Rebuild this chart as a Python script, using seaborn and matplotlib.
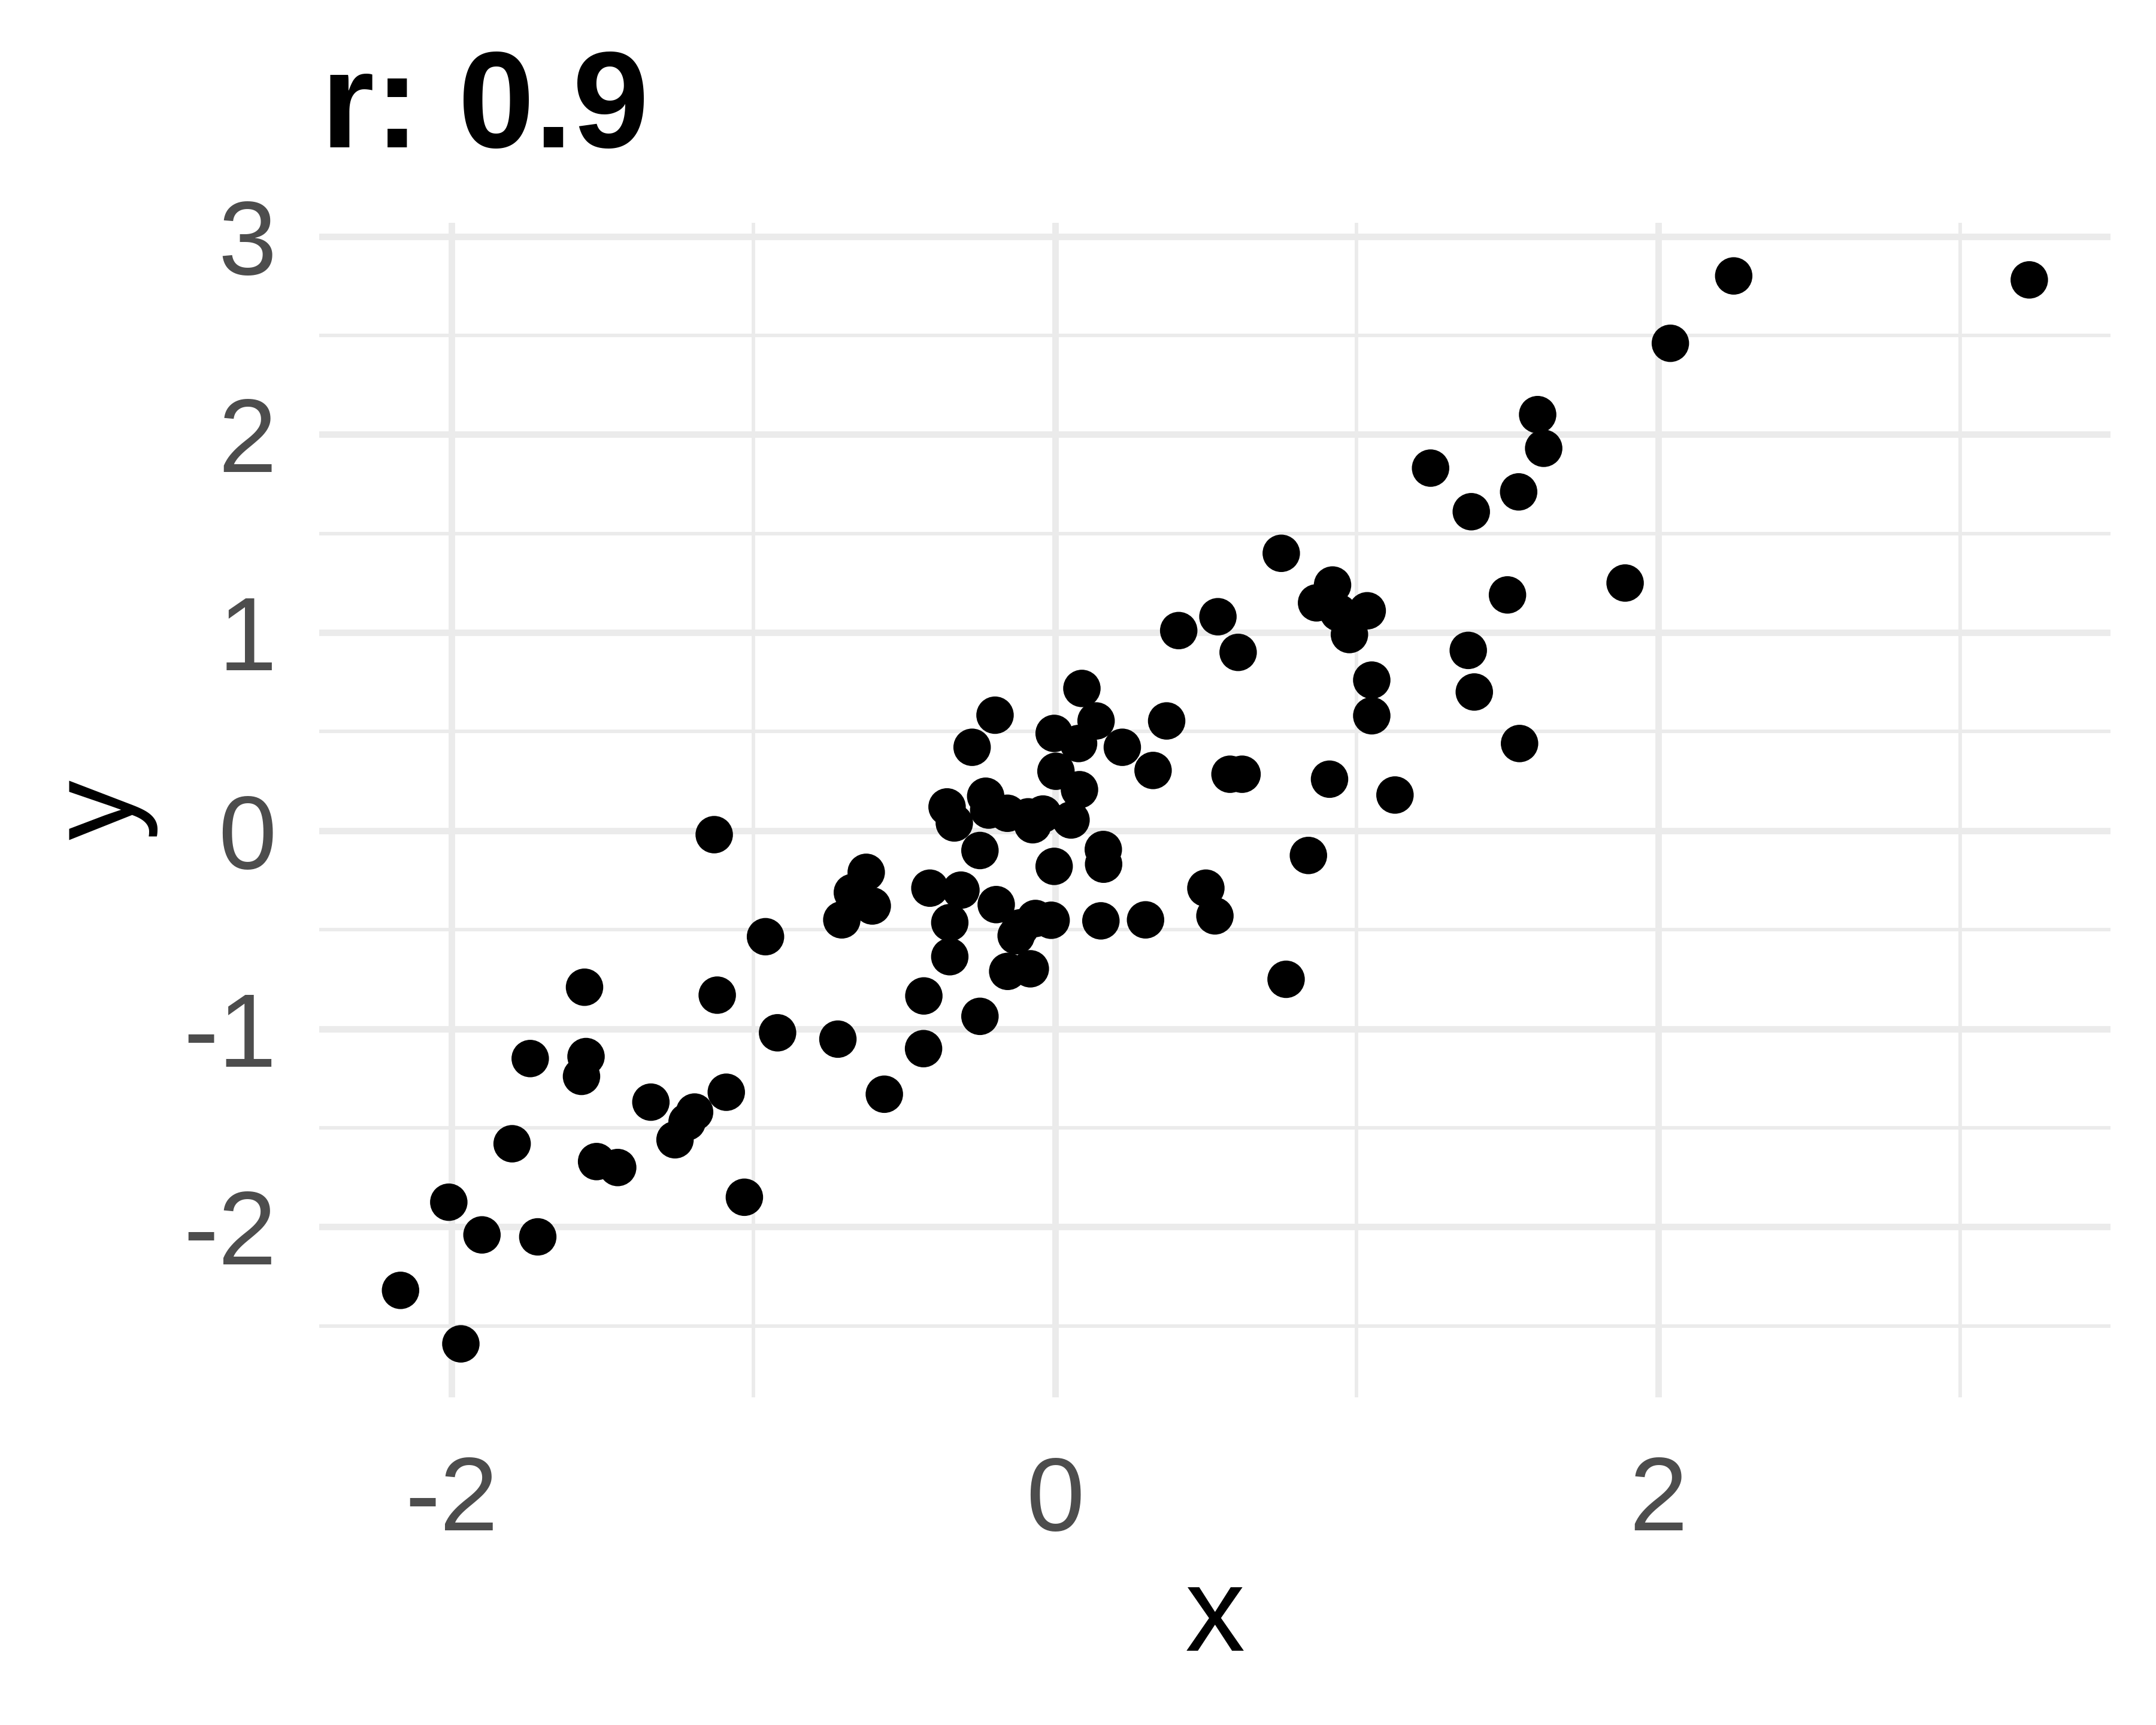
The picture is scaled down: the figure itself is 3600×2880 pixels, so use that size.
import numpy as np
import pandas as pd
import matplotlib
matplotlib.use("Agg")
import matplotlib.pyplot as plt
from matplotlib.ticker import MultipleLocator
import seaborn as sns

# values
x_vals = [-2.17, -1.97, -2.01, -1.90, -1.715, -1.80, -1.74, -1.56, -1.555, -1.57,
          -1.52, -1.45, -1.34, -1.26, -1.22, -1.195, -1.13, -1.12, -1.09, -1.03,
          -0.96, -0.92, -0.72, -0.707, -0.672, -0.626, -0.606, -0.566, -0.436, -0.435,
          -0.415, -0.358, -0.334, -0.349, -0.349, -0.312, -0.275, -0.249, -0.249, -0.23,
          -0.22, -0.199, -0.195, -0.158, -0.157, -0.129, -0.115, -0.089, -0.074, -0.082,
          -0.065, -0.04, -0.013, -0.003, -0.003, 0.003, 0.053, 0.081, 0.089, 0.078,
          0.136, 0.152, 0.16, 0.161, 0.223, 0.30, 0.325, 0.37, 0.41, 0.50,
          0.53, 0.54, 0.58, 0.607, 0.62, 0.75, 0.766, 0.84, 0.867, 0.91,
          0.92, 0.94, 0.976, 1.035, 1.05, 1.05, 1.127, 1.245, 1.37, 1.38,
          1.39, 1.50, 1.537, 1.54, 1.60, 1.62, 1.89, 2.04, 2.25, 3.23]
y_vals = [-2.32, -2.59, -1.875, -2.04, -2.05, -1.58, -1.15, -0.79, -1.14, -1.24,
          -1.67, -1.70, -1.37, -1.56, -1.47, -1.42, -0.02, -0.83, -1.32, -1.85,
          -0.535, -1.02, -1.052, -0.45, -0.312, -0.21, -0.38, -1.33, -1.10, -0.834,
          -0.29, 0.12, 0.039, -0.464, -0.636, -0.30, 0.421, -0.10, -0.937, 0.174,
          0.104, 0.583, -0.373, 0.088, -0.71, -0.53, -0.49, 0.07, 0.03, -0.697,
          -0.443, 0.084, -0.452, -0.18, 0.491, 0.30, 0.054, 0.207, 0.718, 0.44,
          0.554, -0.455, -0.095, -0.169, 0.421, -0.45, 0.304, 0.554, 1.01, -0.29,
          -0.43, 1.08, 0.285, 0.90, 0.285, 1.40, -0.75, -0.125, 1.15, 0.26,
          1.24, 1.10, 0.99, 1.11, 0.76, 0.58, 0.18, 1.83, 0.91, 1.61,
          0.70, 1.19, 1.71, 0.44, 2.10, 1.93, 1.25, 2.46, 2.80, 2.78]
title_text = "r: 0.9"

df = pd.DataFrame({"x": x_vals, "y": y_vals})

sns.set_theme(style="white")
plt.rcParams["font.family"] = ["Liberation Sans", "DejaVu Sans"]

fig = plt.figure(figsize=(12, 9.6), dpi=300)
ax = fig.add_axes([0.148, 0.190, 0.831, 0.681])

sns.scatterplot(data=df, x="x", y="y", ax=ax, color="black", s=225,
                linewidth=0, edgecolor="none", zorder=3)

# ggplot-style 5% expansion
xr = df["x"].max() - df["x"].min()
yr = df["y"].max() - df["y"].min()
ax.set_xlim(df["x"].min() - 0.05 * xr, df["x"].max() + 0.05 * xr)
ax.set_ylim(df["y"].min() - 0.05 * yr, df["y"].max() + 0.05 * yr)

ax.xaxis.set_major_locator(MultipleLocator(2))
ax.xaxis.set_minor_locator(MultipleLocator(1))
ax.yaxis.set_major_locator(MultipleLocator(1))
ax.yaxis.set_minor_locator(MultipleLocator(0.5))

ax.grid(True, which="major", color="#EBEBEB", linewidth=2.6)
ax.grid(True, which="minor", color="#EBEBEB", linewidth=1.4)
ax.set_axisbelow(True)

for side in ax.spines.values():
    side.set_visible(False)

ax.tick_params(axis="both", which="both", length=0, labelsize=42,
               labelcolor="#4D4D4D")
ax.tick_params(axis="x", pad=23)
ax.tick_params(axis="y", pad=17)
ax.set_xticklabels([f"{t:g}" for t in ax.get_xticks()])
ax.set_yticklabels([f"{t:g}" for t in ax.get_yticks()])

ax.set_xlabel("x", fontsize=48, color="black")
ax.set_ylabel("y", fontsize=48, color="black")
ax.xaxis.set_label_coords(0.5, -0.142)
ax.yaxis.set_label_coords(-0.09, 0.5)

fig.text(0.149, 0.9146, title_text, fontsize=55, fontweight="bold",
         ha="left", va="baseline", color="black")

fig.savefig("out.png", dpi=300, facecolor="white")
